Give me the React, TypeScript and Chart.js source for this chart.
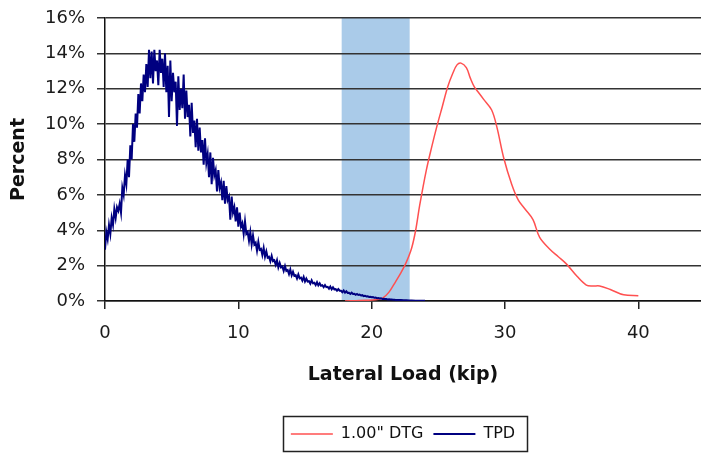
import { useEffect, useRef } from "react";
import { Chart, registerables } from "chart.js";

Chart.register(...registerables);

// ---- data ----
const xTickValues = [0, 10, 20, 30, 40];
const shadedBand = [17.75, 22.85];

const dtgLabel = '1.00" DTG';
const dtgLoad = [
  18.0, 18.8, 19.6, 20.3, 20.8, 21.3, 21.8, 22.2, 22.6, 23.0,
  23.3, 23.6, 24.1, 24.5, 24.9, 25.3, 25.7, 26.1, 26.4, 26.7,
  27.1, 27.4, 27.7, 28.0, 28.4, 29.0, 29.4, 29.9, 30.5, 31.0,
  31.5, 32.1, 32.6, 33.4, 34.0, 34.6, 35.4, 36.1, 36.6, 37.1,
  37.9, 38.9, 40.0,
];
const dtgPercent = [
  0.0, 0.02, 0.04, 0.07, 0.15, 0.5, 1.1, 1.6, 2.2, 3.0,
  4.0, 5.4, 7.4, 8.7, 9.9, 11.0, 12.1, 12.9, 13.35, 13.45,
  13.2, 12.6, 12.1, 11.8, 11.4, 10.8, 9.8, 8.1, 6.6, 5.7,
  5.2, 4.6, 3.6, 2.9, 2.5, 2.1, 1.4, 0.9, 0.85, 0.85,
  0.65, 0.35, 0.3,
];

const tpdLabel = "TPD";
const tpdLoad = [
  0.0, 0.1, 0.2, 0.3, 0.4, 0.5, 0.6, 0.7, 0.8, 0.9,
  1.0, 1.1, 1.2, 1.3, 1.4, 1.5, 1.6, 1.7, 1.8, 1.9,
  2.0, 2.1, 2.2, 2.3, 2.4, 2.5, 2.6, 2.7, 2.8, 2.9,
  3.0, 3.1, 3.2, 3.3, 3.4, 3.5, 3.6, 3.7, 3.8, 3.9,
  4.0, 4.1, 4.2, 4.3, 4.4, 4.5, 4.6, 4.7, 4.8, 4.9,
  5.0, 5.1, 5.2, 5.3, 5.4, 5.5, 5.6, 5.7, 5.8, 5.9,
  6.0, 6.1, 6.2, 6.3, 6.4, 6.5, 6.6, 6.7, 6.8, 6.9,
  7.0, 7.1, 7.2, 7.3, 7.4, 7.5, 7.6, 7.7, 7.8, 7.9,
  8.0, 8.1, 8.2, 8.3, 8.4, 8.5, 8.6, 8.7, 8.8, 8.9,
  9.0, 9.1, 9.2, 9.3, 9.4, 9.5, 9.6, 9.7, 9.8, 9.9,
  10.0, 10.1, 10.2, 10.3, 10.4, 10.5, 10.6, 10.7, 10.8, 10.9,
  11.0, 11.1, 11.2, 11.3, 11.4, 11.5, 11.6, 11.7, 11.8, 11.9,
  12.0, 12.1, 12.2, 12.3, 12.4, 12.5, 12.6, 12.7, 12.8, 12.9,
  13.0, 13.1, 13.2, 13.3, 13.4, 13.5, 13.6, 13.7, 13.8, 13.9,
  14.0, 14.1, 14.2, 14.3, 14.4, 14.5, 14.6, 14.7, 14.8, 14.9,
  15.0, 15.1, 15.2, 15.3, 15.4, 15.5, 15.6, 15.7, 15.8, 15.9,
  16.0, 16.1, 16.2, 16.3, 16.4, 16.5, 16.6, 16.7, 16.8, 16.9,
  17.0, 17.1, 17.2, 17.3, 17.4, 17.5, 17.6, 17.7, 17.8, 17.9,
  18.0, 18.1, 18.2, 18.3, 18.4, 18.5, 18.6, 18.7, 18.8, 18.9,
  19.0, 19.1, 19.2, 19.3, 19.4, 19.5, 19.6, 19.7, 19.8, 19.9,
  20.0, 20.1, 20.2, 20.3, 20.4, 20.5, 20.6, 20.7, 20.8, 20.9,
  21.0, 21.1, 21.2, 21.3, 21.4, 21.5, 21.6, 21.7, 21.8, 21.9,
  22.0, 22.2, 22.4, 22.6, 22.8, 23.0, 23.3, 23.6, 24.0,
];
const tpdPercent = [
  2.9, 3.9, 3.5, 4.3, 3.8, 4.7, 4.3, 5.2, 4.7, 5.3,
  5.1, 5.5, 5.0, 6.4, 6.0, 7.1, 6.6, 8.0, 7.0, 8.8,
  8.0, 10.0, 9.0, 10.6, 9.8, 11.7, 10.6, 12.3, 11.3, 12.8,
  11.8, 13.4, 12.1, 14.2, 12.6, 14.1, 12.3, 14.2, 13.0, 13.6,
  12.2, 14.2, 12.9, 13.7, 12.1, 14.0, 11.8, 13.3, 10.4, 13.6,
  11.3, 12.9, 11.8, 12.4, 9.9, 12.7, 10.8, 12.0, 10.9, 12.8,
  10.3, 11.9, 10.4, 11.1, 9.3, 11.2, 9.5, 10.2, 8.7, 10.3,
  8.5, 9.8, 8.4, 9.1, 7.7, 9.2, 7.8, 8.3, 7.0, 8.4,
  6.6, 8.1, 7.1, 7.4, 6.2, 7.4, 6.4, 6.7, 5.7, 6.8,
  5.5, 6.5, 5.7, 5.9, 4.6, 5.9, 5.0, 5.3, 4.5, 5.3,
  4.2, 5.0, 4.2, 4.4, 3.8, 4.5, 3.8, 3.9, 3.4, 3.9,
  3.2, 3.7, 3.2, 3.3, 2.85, 3.35, 2.9, 2.95, 2.6, 3.0,
  2.5, 2.8, 2.45, 2.5, 2.25, 2.55, 2.25, 2.3, 2.05, 2.3,
  1.9, 2.15, 1.9, 1.95, 1.7, 1.98, 1.7, 1.75, 1.52, 1.78,
  1.45, 1.65, 1.42, 1.46, 1.27, 1.5, 1.28, 1.32, 1.15, 1.36,
  1.1, 1.26, 1.1, 1.12, 0.98, 1.17, 1.0, 1.03, 0.9, 1.06,
  0.88, 1.0, 0.86, 0.89, 0.78, 0.9, 0.78, 0.8, 0.7, 0.82,
  0.66, 0.77, 0.66, 0.67, 0.58, 0.67, 0.58, 0.58, 0.5, 0.59,
  0.47, 0.55, 0.46, 0.47, 0.4, 0.47, 0.4, 0.41, 0.35, 0.4,
  0.34, 0.36, 0.31, 0.33, 0.28, 0.3, 0.26, 0.27, 0.23, 0.24,
  0.21, 0.22, 0.18, 0.19, 0.16, 0.17, 0.14, 0.15, 0.12, 0.13,
  0.11, 0.11, 0.09, 0.1, 0.08, 0.08, 0.07, 0.07, 0.06, 0.06,
  0.05, 0.05, 0.04, 0.04, 0.03, 0.03, 0.02, 0.02, 0.01,
];

const FONT = "'DejaVu Sans', 'Liberation Sans', sans-serif";

const bandPlugin = {
  id: "shadedBand",
  beforeDraw(chart: any) {
    const { ctx, chartArea, scales } = chart;
    const x0 = scales.x.getPixelForValue(shadedBand[0]);
    const x1 = scales.x.getPixelForValue(shadedBand[1]);
    ctx.save();
    ctx.fillStyle = "rgb(170, 203, 233)";
    ctx.fillRect(x0, chartArea.top, x1 - x0, chartArea.bottom - chartArea.top);
    ctx.restore();
  },
};

const legendBoxPlugin = {
  id: "legendBox",
  afterDraw(chart: any) {
    const legend = chart.legend;
    if (!legend || !legend.legendHitBoxes || !legend.legendHitBoxes.length) return;
    const boxes = legend.legendHitBoxes;
    const left = Math.min(...boxes.map((b: any) => b.left)) - 8;
    const right = Math.max(...boxes.map((b: any) => b.left + b.width)) + 12;
    const cy = boxes[0].top + boxes[0].height / 2;
    const { ctx } = chart;
    ctx.save();
    ctx.strokeStyle = "#222";
    ctx.lineWidth = 1.5;
    ctx.strokeRect(Math.round(left) + 0.5, Math.round(cy - 18) + 0.5, Math.round(right - left), 35);
    ctx.restore();
  },
};

export default function App() {
  const canvasRef = useRef<HTMLCanvasElement | null>(null);

  useEffect(() => {
    if (!canvasRef.current) return;
    const chart = new Chart(canvasRef.current, {
      type: "line",
      data: {
        datasets: [
          {
            label: dtgLabel,
            data: dtgLoad.map((x, i) => ({ x, y: dtgPercent[i] })),
            borderColor: "rgb(255, 80, 80)",
            backgroundColor: "rgb(255, 80, 80)",
            borderWidth: 1.5,
            pointRadius: 0,
            tension: 0.35,
            order: 1,
          },
          {
            label: tpdLabel,
            data: tpdLoad.map((x, i) => ({ x, y: tpdPercent[i] })),
            borderColor: "#000080",
            backgroundColor: "#000080",
            borderWidth: 2,
            pointRadius: 0,
            tension: 0,
            order: 0,
          },
        ],
      },
      options: {
        animation: false,
        responsive: false,
        maintainAspectRatio: false,
        layout: { padding: { top: 18, right: 0, left: 0, bottom: 2 } },
        plugins: {
          tooltip: { enabled: false },
          legend: {
            position: "bottom",
            fullSize: false,
            labels: {
              sort: (a: any, b: any) => a.datasetIndex - b.datasetIndex,
              usePointStyle: true,
              pointStyle: "line",
              pointStyleWidth: 42,
              padding: 10,
              color: "#111",
              font: { family: FONT, size: 16 },
            },
          },
        },
        scales: {
          x: {
            type: "linear",
            min: 0,
            max: 44.7,
            afterBuildTicks: (scale: any) => {
              scale.ticks = xTickValues.map((v) => ({ value: v }));
            },
            afterFit: (scale: any) => {
              scale.height = 115;
              scale.paddingRight = 0;
            },
            grid: {
              drawOnChartArea: false,
              drawTicks: true,
              tickLength: 8,
              color: "#222",
              lineWidth: 1.5,
            },
            border: { display: true, color: "#111", width: 1.5 },
            ticks: {
              color: "#1a1a1a",
              font: { family: FONT, size: 18 },
              padding: 14,
              maxRotation: 0,
            },
            title: {
              display: true,
              text: "Lateral Load (kip)",
              color: "#111",
              font: { family: FONT, size: 19, weight: "bold" },
              padding: { top: 0, bottom: 30 },
            },
          },
          y: {
            min: 0,
            max: 16,
            afterFit: (scale: any) => {
              scale.width = 105;
              scale.paddingTop = 0;
              scale.paddingBottom = 0;
            },
            grid: {
              color: "#333",
              lineWidth: 1.5,
              tickLength: 8,
            },
            border: { display: true, color: "#111", width: 1.5 },
            ticks: {
              stepSize: 2,
              color: "#1a1a1a",
              font: { family: FONT, size: 18 },
              padding: 12,
              callback: (v: any) => v + "%",
            },
            title: {
              display: true,
              text: "Percent",
              color: "#111",
              font: { family: FONT, size: 19, weight: "bold" },
              padding: { top: 8, bottom: 0 },
            },
          },
        },
      },
      plugins: [bandPlugin, legendBoxPlugin],
    });
    return () => chart.destroy();
  }, []);

  return (
    <div style={{ position: "absolute", left: 0, top: 0, width: 701, height: 454, background: "#fff" }}>
      <canvas ref={canvasRef} width={701} height={454} />
    </div>
  );
}
